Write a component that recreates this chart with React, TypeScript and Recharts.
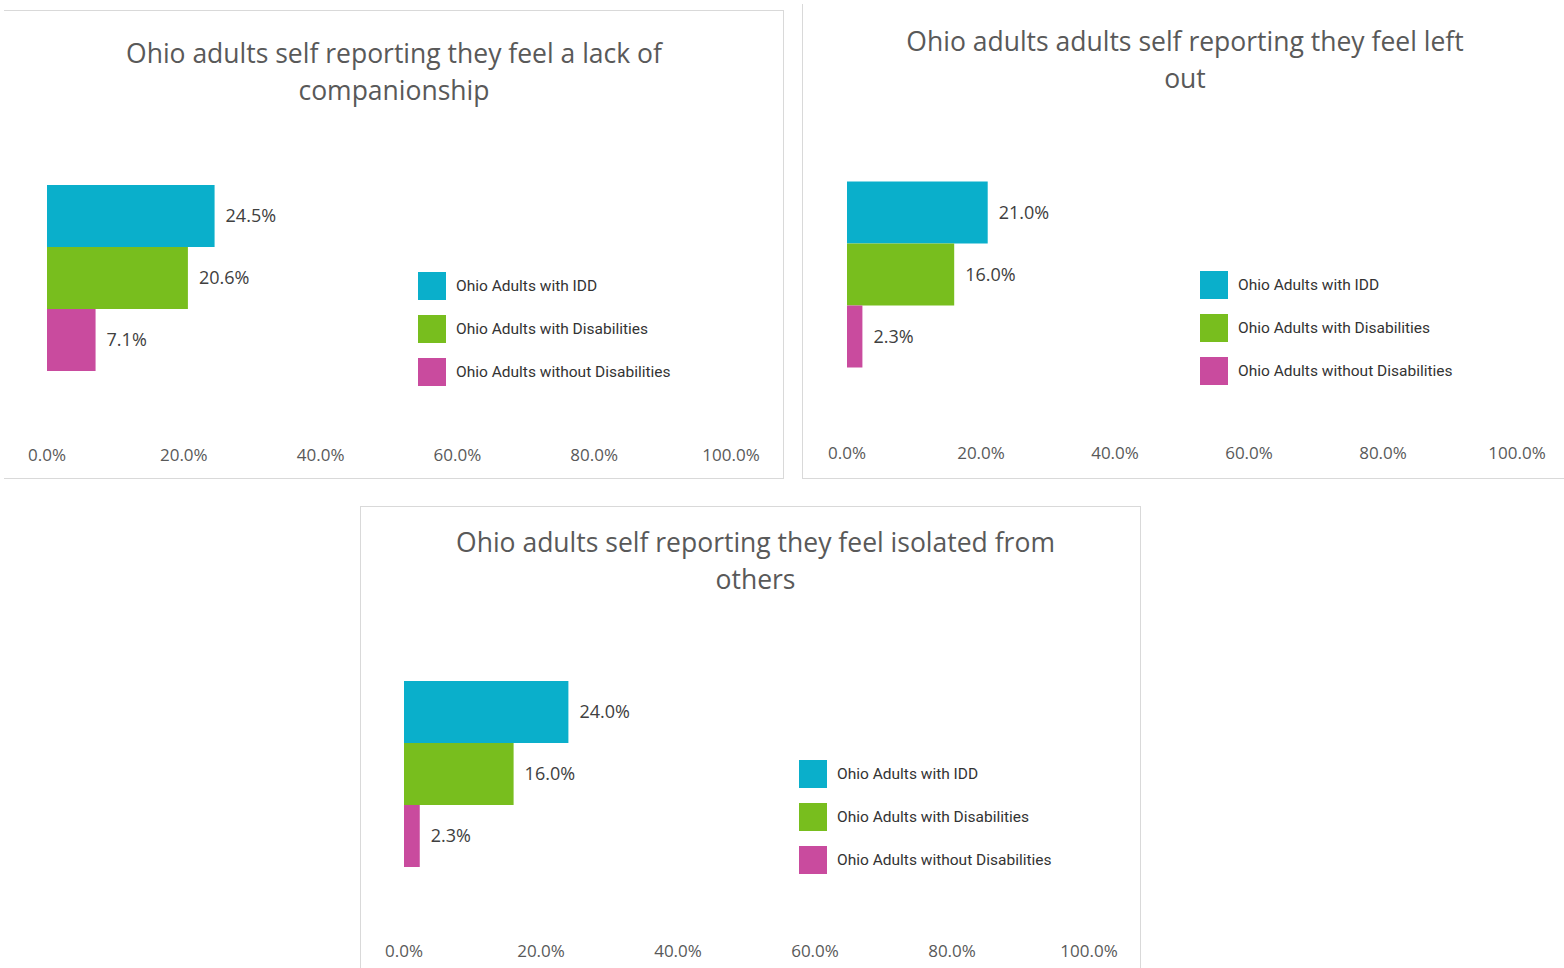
import { BarChart, Bar, XAxis, YAxis, Legend, LabelList } from 'recharts'

const seriesNames = [
  'Ohio Adults with IDD',
  'Ohio Adults with Disabilities',
  'Ohio Adults without Disabilities',
]
const seriesKeys = ['idd', 'disab', 'noDisab']
const seriesColors = ['#0AAFCB', '#78BE1E', '#C94B9E']
const xTicks = [0, 20, 40, 60, 80, 100]

const companionshipTitle = ['Ohio adults self reporting they feel a lack of', 'companionship']
const companionshipValues = [24.5, 20.6, 7.1]

const leftOutTitle = ['Ohio adults adults self reporting they feel left', 'out']
const leftOutValues = [21.0, 16.0, 2.3]

const isolatedTitle = ['Ohio adults self reporting they feel isolated from', 'others']
const isolatedValues = [24.0, 16.0, 2.3]

const TITLE_FONT = '"Open Sans", Lato, sans-serif'
const BORDER = '1px solid #d9d9d9'

const pct = (v: number) => `${v.toFixed(1)}%`

// keep legend rows in series order (recharts sorts by name otherwise)
const renderLegend = (props: any) => {
  const items = [...(props.payload || [])].sort(
    (a: any, b: any) => seriesNames.indexOf(a.value) - seriesNames.indexOf(b.value)
  )
  return (
    <div>
      {items.map((entry: any, i: number) => (
        <div
          key={`leg-${i}`}
          style={{
            display: 'flex',
            alignItems: 'center',
            height: 28,
            marginBottom: i < 2 ? 15 : 0,
          }}
        >
          <div style={{ width: 28, height: 28, background: entry.color, marginRight: 10 }} />
          <span
            style={{
              fontFamily: 'Roboto, sans-serif',
              fontSize: 15.5,
              color: '#333',
              whiteSpace: 'nowrap',
            }}
          >
            {entry.value}
          </span>
        </div>
      ))}
    </div>
  )
}

interface PanelProps {
  left: number
  top: number
  width: number
  height: number
  borders: { top?: boolean; right?: boolean; bottom?: boolean; left?: boolean }
  title: string[]
  titleTop: number
  titleShift: number
  values: number[]
  plotTop: number
  plotLeft: number
  plotRight: number
  axisY: number
  legendLeft: number
  legendTop: number
}

function Panel(p: PanelProps) {
  const row: any = { cat: 'all' }
  seriesKeys.forEach((k, i) => (row[k] = p.values[i]))
  const data = [row]
  const plotH = p.axisY - p.plotTop
  const gap = (plotH - 187) / 2

  return (
    <div
      style={{
        position: 'absolute',
        left: p.left,
        top: p.top,
        width: p.width,
        height: p.height,
        boxSizing: 'border-box',
        borderTop: p.borders.top ? BORDER : 'none',
        borderRight: p.borders.right ? BORDER : 'none',
        borderBottom: p.borders.bottom ? BORDER : 'none',
        borderLeft: p.borders.left ? BORDER : 'none',
        background: '#fff',
      }}
    >
      <div
        style={{
          position: 'absolute',
          left: p.titleShift,
          top: p.titleTop,
          width: p.width,
          textAlign: 'center',
          fontFamily: TITLE_FONT,
          fontSize: 26.5,
          lineHeight: '37px',
          color: '#595959',
          whiteSpace: 'nowrap',
        }}
      >
        {p.title.map((line, i) => (
          <div key={i}>{line}</div>
        ))}
      </div>
      <div style={{ position: 'absolute', left: 0, top: 0 }}>
        <BarChart
          width={p.width}
          height={p.axisY + 30}
          data={data}
          layout="vertical"
          margin={{ top: p.plotTop, right: p.plotRight, left: p.plotLeft, bottom: 0 }}
          barCategoryGap={gap}
          barGap={0}
        >
          <XAxis
            type="number"
            domain={[0, 100]}
            ticks={xTicks}
            tickFormatter={pct}
            axisLine={false}
            tickLine={false}
            height={30}
            interval={0}
            tick={{ fill: '#595959', fontSize: 17, fontFamily: TITLE_FONT }}
          />
          <YAxis type="category" dataKey="cat" hide />
          {seriesKeys.map((k, i) => (
            <Bar
              key={k}
              dataKey={k}
              name={seriesNames[i]}
              fill={seriesColors[i]}
              isAnimationActive={false}
            >
              <LabelList
                dataKey={k}
                position="right"
                offset={11}
                formatter={(v: any) => pct(Number(v))}
                style={{ fill: '#404040', fontSize: 18, fontFamily: TITLE_FONT }}
              />
            </Bar>
          ))}
          <Legend
            layout="vertical"
            align="center"
            verticalAlign="middle"
            content={renderLegend}
            wrapperStyle={{ left: p.legendLeft, top: p.legendTop, width: 'auto', height: 'auto' }}
          />
        </BarChart>
      </div>
    </div>
  )
}

export default function App() {
  return (
    <div
      style={{
        position: 'absolute',
        left: 0,
        top: 0,
        width: 1564,
        height: 968,
        background: '#fff',
        overflow: 'hidden',
      }}
    >
      <Panel
        left={4}
        top={10}
        width={780}
        height={469}
        borders={{ top: true, right: true, bottom: true }}
        title={companionshipTitle}
        titleTop={24}
        titleShift={0}
        values={companionshipValues}
        plotTop={105}
        plotLeft={43}
        plotRight={53}
        axisY={430}
        legendLeft={414}
        legendTop={261}
      />
      <Panel
        left={802}
        top={4}
        width={762}
        height={475}
        borders={{ left: true, bottom: true }}
        title={leftOutTitle}
        titleTop={19}
        titleShift={1}
        values={leftOutValues}
        plotTop={107}
        plotLeft={44}
        plotRight={48}
        axisY={435}
        legendLeft={397}
        legendTop={267}
      />
      <Panel
        left={360}
        top={506}
        width={781}
        height={480}
        borders={{ top: true, left: true, right: true }}
        title={isolatedTitle}
        titleTop={17}
        titleShift={4}
        values={isolatedValues}
        plotTop={105}
        plotLeft={43}
        plotRight={53}
        axisY={430}
        legendLeft={438}
        legendTop={253}
      />
    </div>
  )
}
